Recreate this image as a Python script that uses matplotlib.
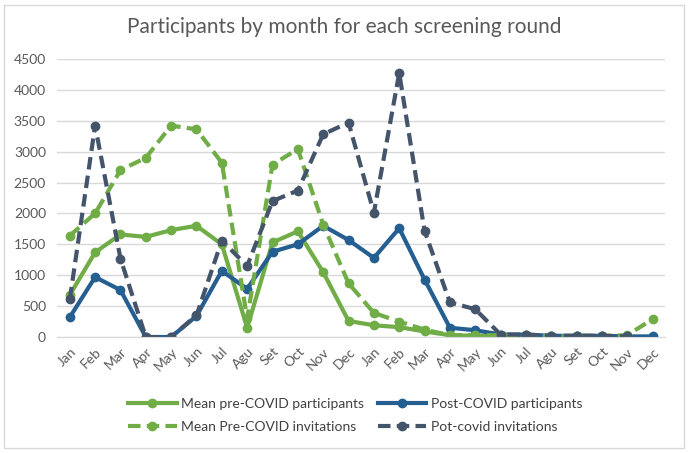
import matplotlib.pyplot as plt
import numpy as np
from matplotlib.patches import Rectangle

months = ["Jan", "Feb", "Mar", "Apr", "May", "Jun", "Jul", "Agu", "Set", "Oct", "Nov", "Dec",
          "Jan", "Feb", "Mar", "Apr", "May", "Jun", "Jul", "Agu", "Set", "Oct", "Nov", "Dec"]

pre_participants = [680, 1370, 1660, 1620, 1730, 1800, 1500, 150, 1530, 1710, 1050, 260,
                    190, 160, 90, 30, 20, 10, 10, 0, 10, 10, 10, None]
post_participants = [320, 970, 760, 0, 0, 340, 1070, 780, 1380, 1500, 1800, 1570,
                     1280, 1760, 930, 150, 110, 40, 40, 20, 20, 20, 10, 10]
pre_invitations = [1640, 2000, 2700, 2900, 3420, 3360, 2820, 300, 2790, 3040, 1820, 870,
                   390, 250, 120, 30, 30, 30, 30, 10, 20, 20, 30, 290]
post_invitations = [610, 3420, 1270, 0, 0, 350, 1560, 1150, 2200, 2370, 3280, 3470,
                    2010, 4270, 1720, 560, 450, 40, 40, 20, 20, 20, 10, None]

green = "#70AD47"
blue = "#255E91"
slate = "#44546A"
plt.rcParams["font.family"] = ["Lato", "DejaVu Sans"]

fig = plt.figure(figsize=(6.88, 4.53), dpi=100)
ax = fig.add_axes([0.083, 0.256, 0.884, 0.614])
fig.patches.append(Rectangle((0.006, 0.012), 0.988, 0.978, transform=fig.transFigure,
                             fill=False, edgecolor="#D9D9D9", linewidth=1))

x = np.arange(len(months))


def arr(v):
    return np.array([np.nan if a is None else a for a in v], dtype=float)


lw = 3
l1, = ax.plot(x, arr(pre_participants), color=green, lw=lw, marker="o", ms=6,
              label="Mean pre-COVID participants")
l2, = ax.plot(x, arr(post_participants), color=blue, lw=lw, marker="o", ms=6,
              label="Post-COVID participants")
l3, = ax.plot(x, arr(pre_invitations), color=green, lw=lw, marker="o", ms=6, dashes=(3, 1.5),
              label="Mean Pre-COVID invitations")
l4, = ax.plot(x, arr(post_invitations), color=slate, lw=lw, marker="o", ms=6, dashes=(3, 1.5),
              label="Pot-covid invitations")

ax.set_xlim(-0.5, 23.5)
ax.set_ylim(0, 4500)
ax.set_yticks(np.arange(0, 4501, 500))
ax.set_xticks(x)
ax.set_xticklabels(months, rotation=45, ha="right", rotation_mode="anchor")
ax.tick_params(axis="both", length=0, labelsize=10, colors="#595959")
ax.tick_params(axis="x", pad=6)
ax.tick_params(axis="y", pad=8)
ax.grid(axis="y", color="#D9D9D9", lw=1)
ax.set_axisbelow(True)
for s in ["top", "right", "left"]:
    ax.spines[s].set_visible(False)
ax.spines["bottom"].set_color("#D9D9D9")

fig.text(0.5, 0.94, "Participants by month for each screening round", ha="center",
         va="center", fontsize=15, color="#595959")

# matplotlib fills legend columns first, so order handles to get rows as in the original
ax.legend([l1, l3, l2, l4], [l.get_label() for l in (l1, l3, l2, l4)],
          loc="upper center", bbox_to_anchor=(0.49, -0.2), ncol=2, frameon=False,
          fontsize=10, labelcolor="#404040", handlelength=3.5, columnspacing=1.0,
          handletextpad=0.3, borderaxespad=0, labelspacing=0.8)

fig.savefig("out.png", dpi=100)
